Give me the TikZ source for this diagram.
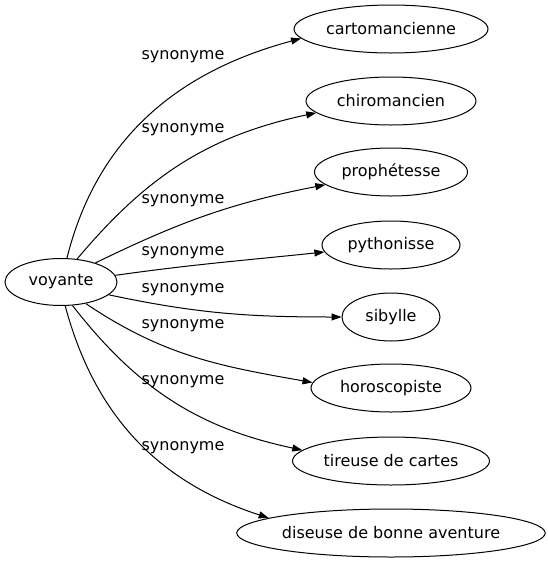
\documentclass[tikz,border=0pt]{standalone}
\usepackage{fontspec}
\setmainfont{DejaVu Sans}
\usetikzlibrary{shapes.geometric,arrows.meta}

\begin{document}
\begin{tikzpicture}[x=1pt,y=1pt,
            word/.style={ellipse,draw,line width=1pt,inner sep=0pt,minimum height=48pt,font=\fontsize{16}{19}\selectfont},
            syn/.style={line width=1pt,-{Triangle[length=10pt,width=7pt]}},
            lbl/.style={font=\fontsize{16}{19}\selectfont,inner sep=0pt}]
            \useasboundingbox (0,0) rectangle (547,-563);
            \node[word,minimum width=112pt,minimum height=47pt] (voyante) at (61,-282) {voyante};
            \node[word,minimum width=194pt] (carto) at (391,-29) {cartomancienne};
            \node[word,minimum width=170pt] (chiro) at (391,-101) {chiromancien};
            \node[word,minimum width=153pt] (proph) at (391,-172) {prophétesse};
            \node[word,minimum width=138pt] (pytho) at (391,-245) {pythonisse};
            \node[word,minimum width=98pt] (sibyl) at (391,-317) {sibylle};
            \node[word,minimum width=160pt] (horo) at (391,-388) {horoscopiste};
            \node[word,minimum width=197pt] (tireuse) at (391,-461) {tireuse de cartes};
            \node[word,minimum width=301pt] (diseuse) at (391,-533) {diseuse de bonne aventure};
            \draw[syn] (voyante.76) to[out=76,in=195] (carto.186);
            \draw[syn] (voyante.55) to[out=50,in=192] (chiro.189);
            \draw[syn] (voyante.29) to[out=26,in=191] (proph.191);
            \draw[syn] (voyante.7) to[out=8,in=186] (pytho.186);
            \draw[syn] (voyante.-15) to[out=-12,in=180] (sibyl.180);
            \draw[syn] (voyante.-41) to[out=-34,in=170] (horo.176);
            \draw[syn] (voyante.-64) to[out=-52,in=168] (tireuse.173);
            \draw[syn] (voyante.-80) to[out=-75,in=162] (diseuse.173);
            \node[lbl] (l1) at (183,-57) {synonyme};
            \node[lbl] (l2) at (183,-130) {synonyme};
            \node[lbl] (l3) at (183,-201) {synonyme};
            \node[lbl] (l4) at (183,-253) {synonyme};
            \node[lbl] (l5) at (183,-290) {synonyme};
            \node[lbl] (l6) at (183,-326) {synonyme};
            \node[lbl] (l7) at (183,-382) {synonyme};
            \node[lbl] (l8) at (183,-448) {synonyme};
\end{tikzpicture}
\end{document}
